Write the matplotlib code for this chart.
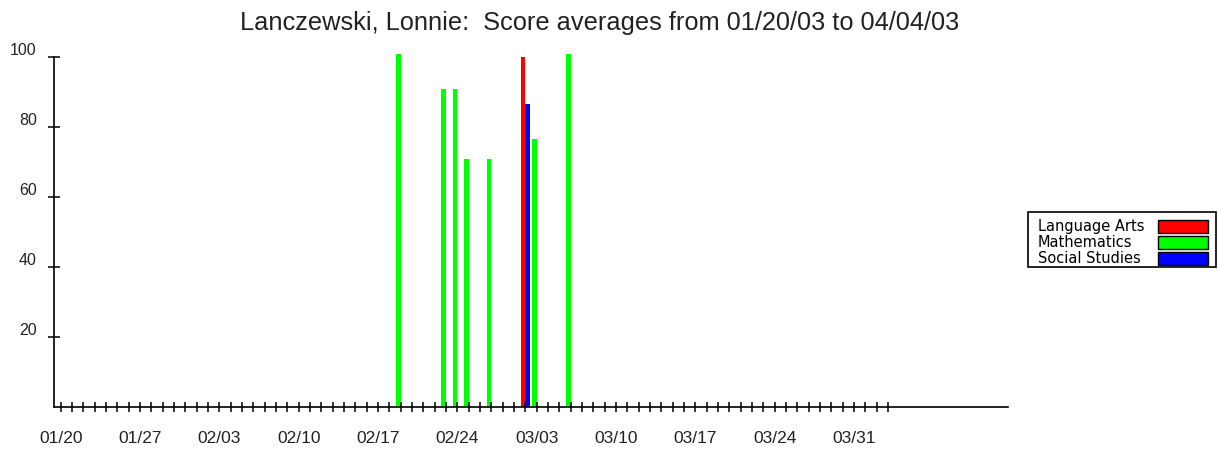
import matplotlib
matplotlib.use("Agg")
import matplotlib.pyplot as plt
import numpy as np
from matplotlib.patches import Rectangle
from matplotlib.transforms import ScaledTranslation

# data
start = np.datetime64("2003-01-20")
la_dates = ["2003-03-02"]
la_scores = [100]
math_dates = ["2003-02-19", "2003-02-23", "2003-02-24", "2003-02-25",
              "2003-02-27", "2003-03-03", "2003-03-06"]
math_scores = [101, 91, 91, 71, 71, 76.5, 101]
ss_dates = ["2003-03-02"]
ss_scores = [86.5]

series_names = ["Language Arts", "Mathematics", "Social Studies"]
colors = ["#ff0000", "#00ff00", "#0000ff"]
y_ticks = [20, 40, 60, 80, 100]
n_days = 74  # 01/20 .. 04/03


def to_days(dates):
    return (np.array(dates, dtype="datetime64[D]") - start).astype(int)


W, H = 1219, 452
fig = plt.figure(figsize=(W / 100, H / 100), dpi=100)

# axes placed in pixels: x from 54 to 1008, y value 0 at 408
px_per_day = 11.333
x0_pix = 60.7
left_pix, right_pix = 54, 1008
xmin = (left_pix - x0_pix) / px_per_day
xmax = (right_pix - x0_pix) / px_per_day
bottom_pix, top_pix = 408, 40
px_per_unit = 3.5
ymax = (bottom_pix - top_pix) / px_per_unit
ax = fig.add_axes([left_pix / W, 1 - bottom_pix / H,
                   (right_pix - left_pix) / W, (bottom_pix - top_pix) / H])
ax.set_xlim(xmin, xmax)
ax.set_ylim(0, ymax)

bw = 0.41
ax.bar(to_days(la_dates), la_scores, width=-bw, align="edge", color=colors[0])
ax.bar(to_days(math_dates), math_scores, width=-bw, align="edge", color=colors[1])
ax.bar(to_days(ss_dates), ss_scores, width=bw, align="edge", color=colors[2])

for s in ["top", "right"]:
    ax.spines[s].set_visible(False)
ax.spines["left"].set_bounds(0, 100)
ax.spines["left"].set_linewidth(1.2)
ax.spines["bottom"].set_linewidth(1.2)

days = np.arange(n_days)
ax.set_xticks(days)
labels = []
for d in days:
    if d % 7 == 0:
        labels.append(str(start + np.timedelta64(int(d), "D"))[5:].replace("-", "/"))
    else:
        labels.append("")
ax.set_xticklabels(labels, fontsize=12.5, family="Liberation Sans", color="#222222")
ax.tick_params(axis="x", direction="inout", length=7.5, width=1.1, pad=13)

ax.set_yticks(y_ticks)
ax.set_yticklabels([str(v) for v in y_ticks], fontsize=11.5,
                   family="Liberation Sans", color="#222222")
ax.tick_params(axis="y", direction="inout", length=9, width=1.1, pad=8)
for lbl in ax.get_yticklabels():
    lbl.set_transform(lbl.get_transform() + ScaledTranslation(0, 0.09, fig.dpi_scale_trans))

fig.text(600 / W, 1 - 23 / H,
         "Lanczewski, Lonnie:  Score averages from 01/20/03 to 04/04/03",
         ha="center", va="center", fontsize=18.3, family="Liberation Sans",
         color="#222222")

# legend box
def fx(p):
    return p / W


def fy(p):
    return 1 - p / H


fig.patches.append(Rectangle((fx(1028), fy(268)), fx(1216) - fx(1028), fy(213) - fy(268),
                             transform=fig.transFigure, fill=False, edgecolor="black",
                             linewidth=1.2))
for i, (name, c) in enumerate(zip(series_names, colors)):
    yc = 227 + i * 16
    fig.text(fx(1038), fy(yc), name, ha="left", va="center", fontsize=10.5,
             family="DejaVu Sans", color="black")
    fig.patches.append(Rectangle((fx(1158), fy(yc + 6.5)), fx(1208) - fx(1158),
                                 fy(yc - 6.5) - fy(yc + 6.5), transform=fig.transFigure,
                                 facecolor=c, edgecolor="black", linewidth=1.0))

fig.savefig("out.png", dpi=100)
